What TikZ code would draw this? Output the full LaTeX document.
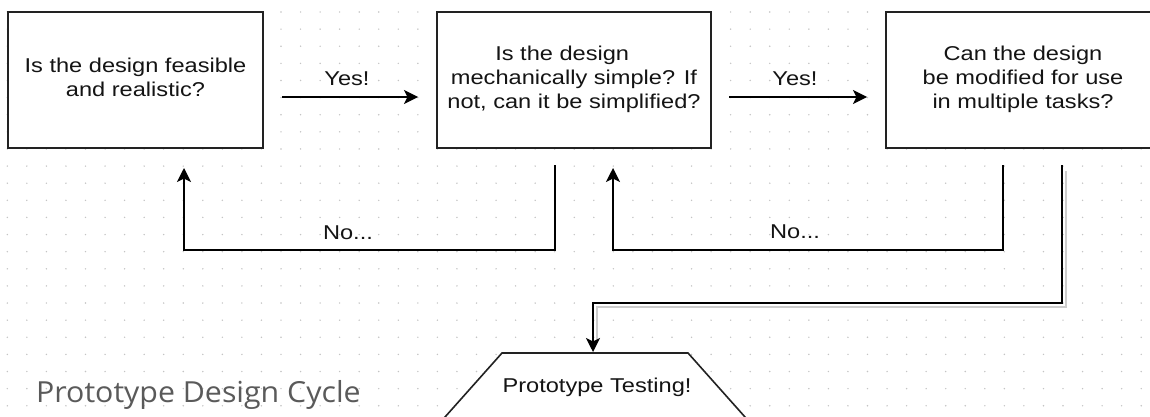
\documentclass[tikz,border=0pt]{standalone}
\usepackage{fontspec}
\setmainfont{Liberation Sans}
\newfontfamily\titlefont{Open Sans}
\usepackage{graphicx}
\usetikzlibrary{arrows.meta}
\definecolor{ink}{HTML}{141414}
\definecolor{edgec}{HTML}{222222}
\definecolor{dotc}{HTML}{C4C4C4}
\definecolor{shadec}{HTML}{CDCDCD}
\definecolor{titlec}{HTML}{5A5A5A}
\newcommand{\sx}[1]{\scalebox{1.18}[1]{\begin{tabular}{@{}c@{}}#1\end{tabular}}}
\begin{document}
\begin{tikzpicture}[x=1pt,y=-1pt,
  box/.style={draw=edgec,line width=1.6pt,fill=white,rectangle,inner sep=0pt,outer sep=0pt,minimum height=136pt,font=\fontsize{20}{24}\selectfont,text=ink},
  lbl/.style={font=\fontsize{20}{24}\selectfont,text=ink,inner sep=0pt},
  conn/.style={draw=black,line width=1.5pt,-{Stealth[length=14pt,width=14pt,inset=3.5pt]}},
  shadowline/.style={draw=shadec,line width=2pt},
  trapline/.style={draw=edgec,line width=1.6pt,fill=white}
]
\useasboundingbox (0,0) rectangle (1150,417);
\clip (0,0) rectangle (1150,417);
\fill[white] (0,0) rectangle (1150,417);
\foreach \i in {0,...,58} \foreach \j in {-1,...,23} \fill[dotc] (7.3+19.55*\i, 12+17.12*\j) circle (0.8pt);

\node[box,minimum width=255pt] (b1) at (135.5,80) {\sx{Is the design feasible\\and realistic?}};
\node[box,minimum width=274pt] (b2) at (574,80) {\sx{Is the design\rule{20pt}{0pt}\\mechanically simple? If\\not, can it be simplified?}};
\node[box,minimum width=274pt] (b3) at (1023,80) {\sx{Can the design\\be modified for use\\in multiple tasks?}};
\draw[trapline] (502,353) -- (688,353) -- (759.25,433) -- (430.75,433) -- cycle;
\coordinate (pttop) at (595,353);
\node[lbl] (ptl) at (597,387) {\scalebox{1.18}[1]{Prototype Testing!}};

\node[lbl] (y1) at (347,79) {\scalebox{1.18}[1]{Yes!}};
\node[lbl] (y2) at (795,79) {\scalebox{1.18}[1]{Yes!}};
\node[lbl] (n1) at (348,233) {\scalebox{1.18}[1]{No...}};
\node[lbl] (n2) at (795,232) {\scalebox{1.18}[1]{No...}};

\draw[conn] ([xshift=19pt,yshift=-17pt]b1.east) -- ([xshift=-19pt,yshift=-17pt]b2.west);
\draw[conn] ([xshift=18pt,yshift=-17pt]b2.east) -- ([xshift=-19pt,yshift=-17pt]b3.west);
\draw[conn] ([xshift=-19pt,yshift=-17pt]b2.south) -- ++(0,85) -| ([xshift=48.5pt,yshift=-20pt]b1.south);
\draw[conn] ([xshift=-20pt,yshift=-17pt]b3.south) -- ++(0,85) -| ([xshift=39pt,yshift=-20pt]b2.south);

\draw[shadowline] ([xshift=43pt,yshift=-23pt]b3.south) -- ++(0,136) -| ([xshift=2pt,yshift=12pt]pttop);
\draw[conn] ([xshift=39pt,yshift=-17pt]b3.south) -- ++(0,138) -| ([xshift=-2pt,yshift=1pt]pttop);

\node[anchor=base west,font=\titlefont\fontsize{29}{33}\selectfont,text=titlec,inner sep=0pt] (title) at (36,402.5) {\scalebox{1.045}[1]{Prototype Design Cycle}};
\end{tikzpicture}
\end{document}
